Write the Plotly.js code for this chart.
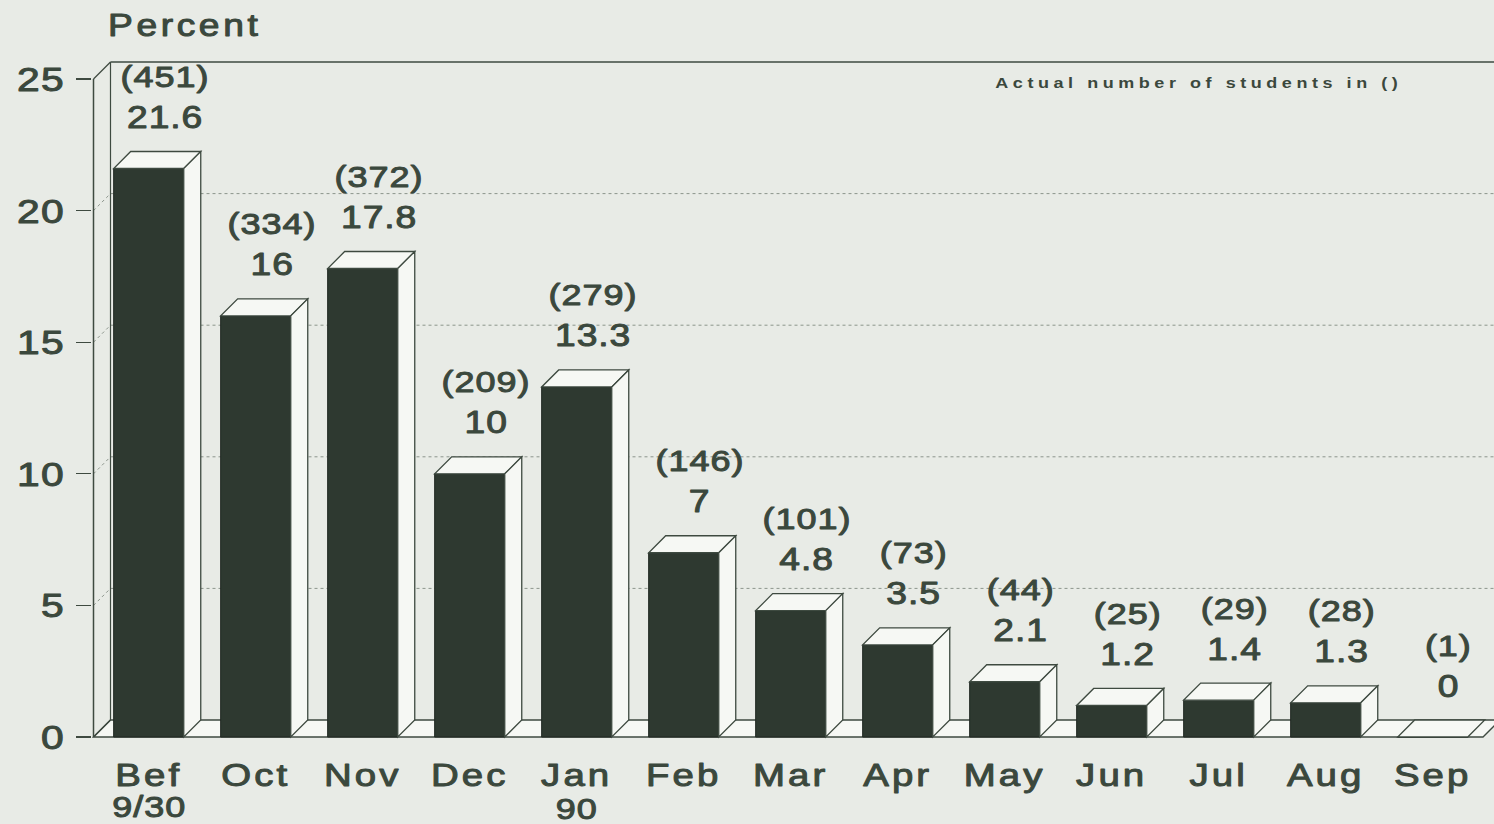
<!DOCTYPE html>
<html>
<head>
<meta charset="utf-8">
<script src="https://cdn.plot.ly/plotly-3.0.1.min.js"></script>
<style>
  html, body { margin: 0; padding: 0; background: #e8ebe6; }
  #plot { width: 1494px; height: 824px; }
  #plot text { stroke: #3b483d; stroke-width: 1px; stroke-linejoin: round; }
  #plot text.gtitle { letter-spacing: 3px; }
  #plot .xtick text { letter-spacing: 2.6px; }
  #plot .ytick text { letter-spacing: 1.2px; }
  #plot g.annotation text { letter-spacing: 0.8px; }
  #plot g.annotation[data-index="0"] text { letter-spacing: 3.8px; stroke-width: 0; }
</style>
</head>
<body>
<div id="plot"></div>
<script>
// ---- data ----
const categories = ['Bef', 'Oct', 'Nov', 'Dec', 'Jan', 'Feb', 'Mar', 'Apr', 'May', 'Jun', 'Jul', 'Aug', 'Sep'];
const subLabels  = ['9/30', '', '', '', '90', '', '', '', '', '', '', '', ''];
const percents   = [21.6, 16, 17.8, 10, 13.3, 7, 4.8, 3.5, 2.1, 1.2, 1.4, 1.3, 0];
const counts     = [451, 334, 372, 209, 279, 146, 101, 73, 44, 25, 29, 28, 1];
const yTicks     = [0, 5, 10, 15, 20, 25];
const noteText   = 'Actual number of students in ()';
const titleText  = 'Percent';

// ---- style / geometry ----
const BG = '#e8ebe6', FACE = '#f6f8f4', DARK = '#2e3930', INK = '#3b483d', LINE = '#3e4a40', GRID = '#8c958c';
const FONT = '"Liberation Sans", Arial, sans-serif';
const SX = 1.2;                         // horizontal widening of glyphs (wide face look)
const PXX = 107, PXY = 26.32;          // pixels per unit
const W = 0.655;                        // bar width (category units)
const DX = 17 / PXX, DY = 17 / PXY;     // 3D depth offset
const XMIN = -0.53, XMAX = XMIN + 1402 / PXX;
const YMIN = -3 / PXY, YMAX = YMIN + 685 / PXY;
const XL = XMIN + 1.5 / PXX;            // front-left wall edge
const XR = 12.47;                       // floor right end
const YTOP = 25;

const idx = categories.map((_, i) => i);
const shapes = [];

// floor
shapes.push({type: 'path', xref: 'x', yref: 'y', layer: 'below',
  path: `M ${XL},0 L ${XR},0 L ${XR + DX},${DY} L ${XMAX + 1},${DY} L ${XL + DX},${DY} Z`,
  fillcolor: FACE, line: {color: LINE, width: 1.3}});
// back wall grid (dotted) + left wall diagonals
yTicks.filter(v => v > 0 && v < YTOP).forEach(v => {
  shapes.push({type: 'line', xref: 'x', yref: 'y', layer: 'below',
    x0: XL + DX, x1: XMAX, y0: v + DY, y1: v + DY, line: {color: GRID, width: 1, dash: 'dot'}});
  shapes.push({type: 'line', xref: 'x', yref: 'y', layer: 'below',
    x0: XL, x1: XL + DX, y0: v, y1: v + DY, line: {color: GRID, width: 1, dash: 'dot'}});
});
// left wall and back wall frame
shapes.push({type: 'line', xref: 'x', yref: 'y', layer: 'below', x0: XL, x1: XL, y0: 0, y1: YTOP, line: {color: LINE, width: 1.5}});
shapes.push({type: 'line', xref: 'x', yref: 'y', layer: 'below', x0: XL + DX, x1: XL + DX, y0: DY, y1: YTOP + DY, line: {color: LINE, width: 1.2}});
shapes.push({type: 'line', xref: 'x', yref: 'y', layer: 'below', x0: XL, x1: XL + DX, y0: YTOP, y1: YTOP + DY, line: {color: LINE, width: 1.3}});
shapes.push({type: 'line', xref: 'x', yref: 'y', layer: 'below', x0: XL + DX, x1: XMAX, y0: YTOP + DY, y1: YTOP + DY, line: {color: LINE, width: 1.5}});
shapes.push({type: 'line', xref: 'x', yref: 'y', layer: 'below', x0: XL, x1: XL + DX, y0: 0, y1: DY, line: {color: LINE, width: 1.2}});

// 3D faces of bars
idx.forEach(i => {
  const v = percents[i], x0 = i - W / 2, x1 = i + W / 2;
  shapes.push({type: 'path', xref: 'x', yref: 'y', layer: 'above',
    path: `M ${x0},${v} L ${x1},${v} L ${x1 + DX},${v + DY} L ${x0 + DX},${v + DY} Z`,
    fillcolor: FACE, line: {color: LINE, width: 1.3}});
  if (v > 0) {
    shapes.push({type: 'path', xref: 'x', yref: 'y', layer: 'above',
      path: `M ${x1},0 L ${x1},${v} L ${x1 + DX},${v + DY} L ${x1 + DX},${DY} Z`,
      fillcolor: FACE, line: {color: LINE, width: 1.3}});
  }
});

// annotations
const annotations = [];
annotations.push({xref: 'paper', yref: 'paper', x: (1199 - 92) / 1402, y: 1 + (55 - 82) / 685,
  xanchor: 'center', yanchor: 'middle', showarrow: false, text: noteText,
  font: {family: FONT, size: 15, color: INK, weight: 'bold'}});
idx.forEach(i => {
  const v = percents[i];
  annotations.push({xref: 'x', yref: 'y', x: i + 0.15, y: v, yshift: 51, xanchor: 'center', yanchor: 'middle',
    showarrow: false, text: String(v), font: {family: FONT, size: 31, color: INK}});
  annotations.push({xref: 'x', yref: 'y', x: i + 0.15, y: v, yshift: 92, xanchor: 'center', yanchor: 'middle',
    showarrow: false, text: '(' + counts[i] + ')', font: {family: FONT, size: 30, color: INK}});
  if (subLabels[i]) {
    annotations.push({xref: 'x', yref: 'y', x: i, y: 0, yshift: i === 0 ? -69 : -71, xanchor: 'center', yanchor: 'middle',
      showarrow: false, text: subLabels[i], font: {family: FONT, size: 30, color: INK}});
  }
});

const data = [{
  type: 'bar', x: idx, y: percents, width: W,
  marker: {color: DARK, line: {color: '#1f2620', width: 1}},
  hoverinfo: 'skip', showlegend: false
}];

const layout = {
  width: 1494, height: 824,
  paper_bgcolor: BG, plot_bgcolor: BG,
  margin: {l: 92, r: 0, t: 55, b: 84, pad: 0},
  title: {text: titleText, xref: 'container', yref: 'container', x: 108 / 1494, xanchor: 'left',
    y: 1 - 25 / 824, yanchor: 'middle', font: {family: FONT, size: 31, color: INK}},
  xaxis: {range: [XMIN, XMAX], tickvals: idx, ticktext: categories, showgrid: false, zeroline: false,
    showline: false, ticks: '', ticklabelstandoff: 13,
    tickfont: {family: FONT, size: 32, color: INK}},
  yaxis: {range: [YMIN, YMAX], tickvals: yTicks, ticktext: yTicks.map(String), showgrid: false, zeroline: false,
    showline: false, ticks: 'outside', ticklen: 15, tickwidth: 1.3, tickcolor: LINE, ticklabelstandoff: 4,
    tickfont: {family: FONT, size: 34, color: INK}},
  shapes: shapes,
  annotations: annotations,
  bargap: 0
};

Plotly.newPlot('plot', data, layout, {displayModeBar: false, staticPlot: true}).then(gd => {
  // widen glyphs horizontally around each text's own anchor point
  gd.querySelectorAll('svg text').forEach(t => {
    const ax = parseFloat(t.getAttribute('x')) || 0;
    const tr = t.getAttribute('transform') || '';
    t.setAttribute('transform', (tr + ` translate(${ax},0) scale(${SX},1) translate(${-ax},0)`).trim());
  });
});
</script>
</body>
</html>
